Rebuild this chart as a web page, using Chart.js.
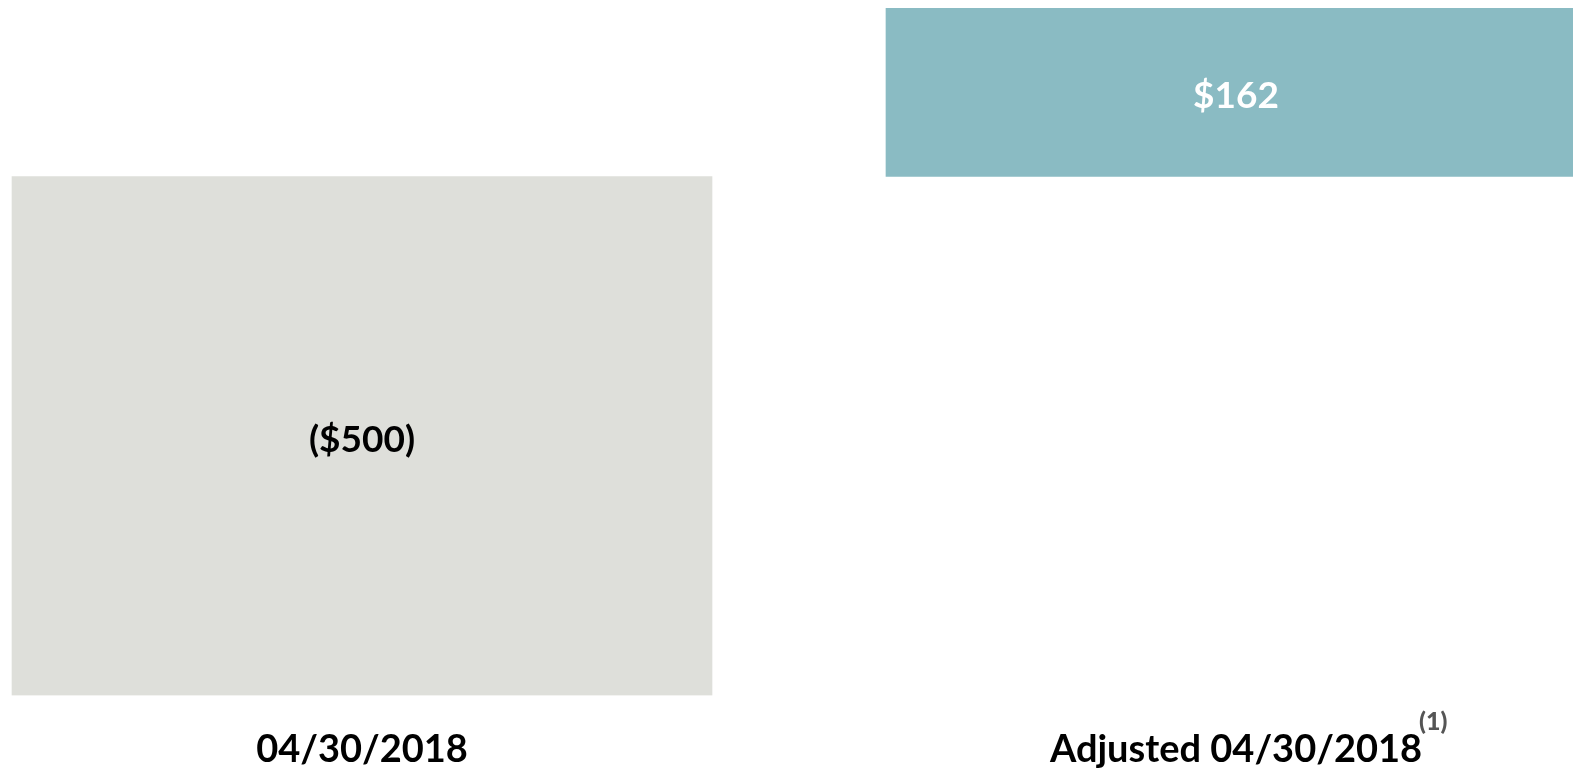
<!DOCTYPE html>
<html>
<head>
<meta charset="utf-8">
<title>Balance</title>
<script src="https://cdn.jsdelivr.net/npm/chart.js@4.4.1/dist/chart.umd.min.js"></script>
<style>
  html, body { margin: 0; padding: 0; background: #fff; overflow: hidden; }
  #wrap { width: 1573px; height: 770px; }
</style>
</head>
<body>
<div id="wrap"><canvas id="grafica" width="1573" height="770"></canvas></div>
<script>
const categorias = ["04/30/2018", "Adjusted 04/30/2018"];
const valores = [-500, 162];
const colores = ["#dedfda", "#8abbc3"];
const coloresTexto = ["#000000", "#ffffff"];
const notas = ["", "(1)"];

const fuente = "Lato, 'Open Sans', sans-serif";
const tamCategoria = 38;

function formatoDolar(v) {
  return v < 0 ? "($" + Math.abs(v) + ")" : "$" + v;
}

// etiquetas de valor en el centro de cada barra + nota al pie junto a la categoria
const etiquetas = {
  id: "etiquetas",
  afterDatasetsDraw(chart) {
    const ctx = chart.ctx;
    const meta = chart.getDatasetMeta(0);
    ctx.save();
    ctx.font = "bold 37px " + fuente;
    ctx.textAlign = "center";
    ctx.textBaseline = "middle";
    meta.data.forEach((bar, i) => {
      ctx.fillStyle = coloresTexto[i];
      ctx.fillText(formatoDolar(valores[i]), bar.x, (bar.y + bar.base) / 2 + 4);
    });
    ctx.restore();
  },
  afterDraw(chart) {
    const ctx = chart.ctx;
    const x = chart.scales.x;
    ctx.save();
    notas.forEach((n, i) => {
      if (!n) return;
      ctx.font = "bold " + tamCategoria + "px " + fuente;
      const ancho = ctx.measureText(categorias[i]).width;
      const px = x.getPixelForValue(i) + ancho / 2 - 3;
      ctx.font = "900 25px " + fuente;
      ctx.fillStyle = "#555555";
      ctx.textAlign = "left";
      ctx.textBaseline = "middle";
      ctx.fillText(n, px, 722);
    });
    ctx.restore();
  }
};

new Chart(document.getElementById("grafica").getContext("2d"), {
  type: "bar",
  data: {
    datasets: [{
      data: valores.map((v, i) => ({ x: i, y: v })),
      backgroundColor: colores,
      borderWidth: 0,
      barThickness: 700
    }]
  },
  options: {
    responsive: false,
    animation: false,
    layout: { padding: 0 },
    plugins: {
      legend: { display: false },
      tooltip: { enabled: false }
    },
    scales: {
      x: {
        type: "linear",
        offset: false,
        min: -0.4142,
        max: 1.3856,
        grid: { display: false, drawTicks: false },
        border: { display: false },
        afterBuildTicks: (scale) => {
          scale.ticks = categorias.map((_, i) => ({ value: i }));
        },
        afterFit: (scale) => { scale.height = 74.5; },
        ticks: {
          autoSkip: false,
          maxRotation: 0,
          padding: 31,
          color: "#000",
          font: { family: fuente, size: tamCategoria, weight: "bold" },
          callback: (v) => categorias[v]
        }
      },
      y: {
        display: false,
        min: -500,
        max: 170
      }
    }
  },
  plugins: [etiquetas]
});
</script>
</body>
</html>
